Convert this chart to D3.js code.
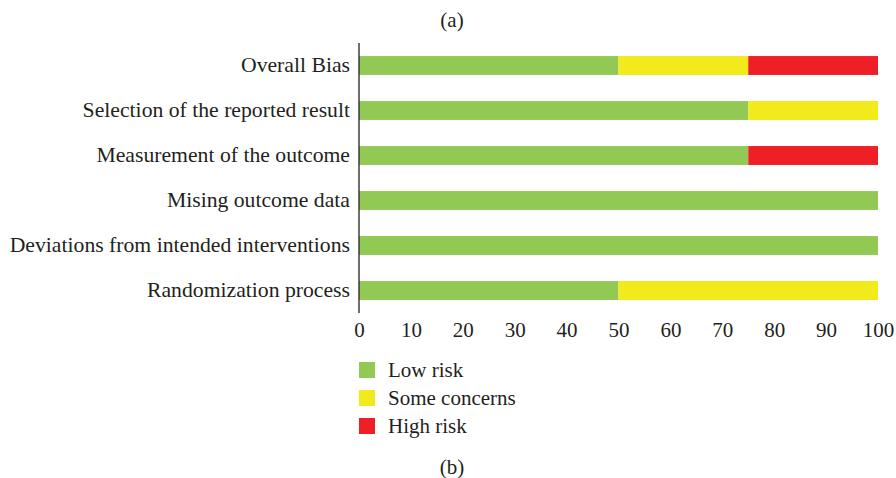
<!DOCTYPE html>
<html>
<head>
<meta charset="utf-8">
<script src="https://cdn.jsdelivr.net/npm/d3@7"></script>
<style>
  body { margin: 0; background: #fff; }
  svg text { font-family: "Liberation Serif", serif; fill: #231f20; }
</style>
</head>
<body>
<svg id="chart" width="896" height="478"></svg>
<script>
// Risk-of-bias domains, top to bottom
const domains = [
  "Overall Bias",
  "Selection of the reported result",
  "Measurement of the outcome",
  "Mising outcome data",
  "Deviations from intended interventions",
  "Randomization process"
];
// Percentage of studies in each judgement per domain
const lowRisk      = [50, 75, 75, 100, 100, 50];
const someConcerns = [25, 25, 0, 0, 0, 50];
const highRisk     = [25, 0, 25, 0, 0, 0];
const judgements = ["Low risk", "Some concerns", "High risk"];
const colours = ["#92c955", "#f2ea1a", "#ee2025"];
const xTicks = [0, 10, 20, 30, 40, 50, 60, 70, 80, 90, 100];

const fontFamily = "Liberation Serif, serif";
const fontSize = 21;
const labelSize = 21.7;

const svg = d3.select("#chart");
const plotLeft = 359, plotRight = 878, plotTop = 43, plotBottom = 313;

const x = d3.scaleLinear().domain([0, 100]).range([plotLeft, plotRight]);
const y = d3.scaleBand().domain(domains).range([plotTop, plotBottom]).paddingInner(0.58).paddingOuter(0.29);

const rows = domains.map((d, i) => ({
  domain: d, "Low risk": lowRisk[i], "Some concerns": someConcerns[i], "High risk": highRisk[i]
}));
const stacked = d3.stack().keys(judgements)(rows);

svg.append("g")
  .selectAll("g")
  .data(stacked)
  .join("g")
  .attr("fill", (d, i) => colours[i])
  .selectAll("rect")
  .data(d => d)
  .join("rect")
  .attr("x", d => x(d[0]))
  .attr("y", d => y(d.data.domain))
  .attr("width", d => x(d[1]) - x(d[0]))
  .attr("height", y.bandwidth());

// vertical axis line with category labels
const yAxis = svg.append("g")
  .attr("transform", `translate(${plotLeft},0)`)
  .call(d3.axisLeft(y).tickSize(0).tickPadding(9));
yAxis.select(".domain").attr("d", `M0,${plotTop}V${plotBottom}`).attr("stroke", "#231f20").attr("stroke-width", 1.3);
yAxis.selectAll("text").attr("font-size", labelSize).style("font-family", fontFamily).attr("fill", "#231f20");

// numeric axis labels (no line, no ticks)
const xAxis = svg.append("g")
  .attr("transform", `translate(0,${plotBottom})`)
  .call(d3.axisBottom(x).tickValues(xTicks).tickSize(0).tickPadding(9));
xAxis.select(".domain").remove();
xAxis.selectAll("text").attr("font-size", fontSize).style("font-family", fontFamily).attr("fill", "#231f20");

// legend
const legend = svg.append("g");
judgements.forEach((j, i) => {
  const cy = 370 + i * 28;
  legend.append("rect").attr("x", 359).attr("y", cy - 8).attr("width", 16).attr("height", 16).attr("fill", colours[i]);
  legend.append("text").attr("x", 388).attr("y", cy).attr("dy", "0.33em").attr("font-size", fontSize).text(j);
});

// panel captions
svg.append("text").attr("x", 452).attr("y", 20).attr("dy", "0.33em").attr("text-anchor", "middle").attr("font-size", fontSize).text("(a)");
svg.append("text").attr("x", 452).attr("y", 467).attr("dy", "0.33em").attr("text-anchor", "middle").attr("font-size", fontSize).text("(b)");
</script>
</body>
</html>
